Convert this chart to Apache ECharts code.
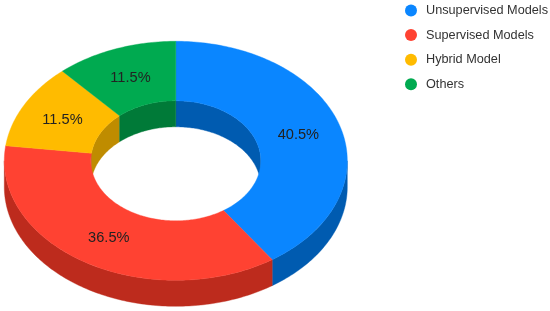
<!DOCTYPE html>
<html>
<head>
<meta charset="utf-8">
<style>html,body{margin:0;padding:0;background:#fff}#c{width:550px;height:311px}</style>
<script src="https://cdn.jsdelivr.net/npm/echarts@6/dist/echarts.min.js"></script>
</head>
<body>
<div id="c"></div>
<script>
const categories = ['Unsupervised Models', 'Supervised Models', 'Hybrid Model', 'Others'];
const shares = [40.5, 36.5, 11.5, 11.5];
const topColors = ['#0a86ff', '#ff4232', '#ffbb00', '#00aa50'];
const wallColors = ['#005bb0', '#bd2b1d', '#bf8c00', '#007a38'];

const CX = 175.8, CY = 160.8, RX = 171.5, RY = 119.5, HX = 85, HY = 60, DEPTH = 26;
const total = shares.reduce((a, b) => a + b, 0);
const pt = (deg, rx, ry, dy) => {
  const a = deg * Math.PI / 180;
  return [CX + rx * Math.sin(a), CY - ry * Math.cos(a) + (dy || 0)];
};
const arc = (from, to, rx, ry, dy) => {
  const out = [], n = Math.max(1, Math.ceil(Math.abs(to - from)));
  for (let i = 0; i <= n; i++) out.push(pt(from + (to - from) * i / n, rx, ry, dy));
  return out;
};
const poly = (points, color, z2) => ({
  type: 'polygon', z2, shape: { points },
  style: { fill: color, stroke: color, lineWidth: 0.4 }
});
function renderItem(params, api) {
  const idx = params.seriesIndex;
  const value = api.value(0);
  let before = 0;
  for (let i = 0; i < idx; i++) before += shares[i];
  const start = before / total * 360, end = (before + value) / total * 360;
  const children = [];
  // outer wall: front half only (90..270 degrees clockwise from the top)
  const oa = Math.max(start, 90), ob = Math.min(end, 270);
  if (ob > oa) {
    children.push(poly(arc(oa, ob, RX, RY, 0).concat(arc(ob, oa, RX, RY, DEPTH)), wallColors[idx], 1));
  }
  // inner wall: back half only (270..450)
  [[start, Math.min(end, 90)], [Math.max(start, 270), end]].forEach(([a, b]) => {
    if (b > a) children.push(poly(arc(a, b, HX, HY, 0).concat(arc(b, a, HX, HY, DEPTH)), wallColors[idx], 1));
  });
  // top face
  children.push(poly(arc(start, end, RX, RY, 0).concat(arc(end, start, HX, HY, 0)), topColors[idx], 2));
  // percentage label
  const mid = pt((start + end) / 2, (RX + HX) / 2, (RY + HY) / 2, 0);
  children.push({
    type: 'text', z2: 3,
    style: {
      x: mid[0], y: mid[1] + 0.8, text: value.toFixed(1) + '%',
      fill: '#222', font: '14.6px "Liberation Sans", Arial, sans-serif',
      align: 'center', verticalAlign: 'middle'
    }
  });
  return { type: 'group', children };
}
const chart = echarts.init(document.getElementById('c'), null, { renderer: 'canvas' });
chart.setOption({
  animation: false,
  backgroundColor: '#fff',
  color: topColors,
  legend: {
    data: categories, orient: 'vertical', left: 400, top: -1,
    icon: 'circle', itemWidth: 12, itemHeight: 12, itemGap: 11.6,
    selectedMode: false,
    textStyle: { color: '#333', fontSize: 12.7, fontFamily: '"Liberation Sans", Arial, sans-serif', padding: [0, 0, 0, 4] }
  },
  series: categories.map((name, i) => ({
    type: 'custom', name, coordinateSystem: 'none', renderItem,
    data: [[shares[i]]], silent: true
  }))
});
</script>
</body>
</html>
